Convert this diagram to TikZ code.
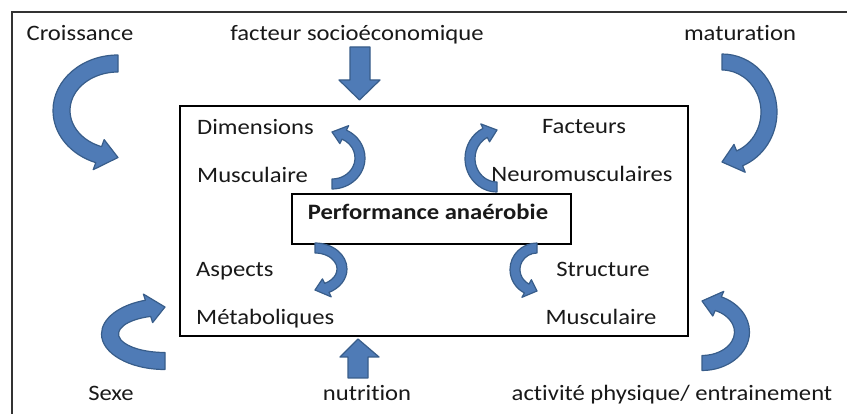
\documentclass[tikz,border=0pt]{standalone}
\usepackage{fontspec}
\setmainfont{Carlito}[FakeStretch=1.12, Ligatures=NoCommon]
\begin{document}
% bent block arrow: centre (#1,#2), radii #3/#4, from angle #5 to tip angle #6,
% band width #7, head width #8, head length in degrees #9
\newcommand{\bentarrow}[9]{%
  \pgfmathsetmacro\ba{#6-#9*sign(#6-#5)}%
  \pgfmathsetmacro\rxo{#3+#7/2}\pgfmathsetmacro\ryo{#4+#7/2}%
  \pgfmathsetmacro\rxi{#3-#7/2}\pgfmathsetmacro\ryi{#4-#7/2}%
  \pgfmathsetmacro\pax{#1+\rxo*cos(#5)}\pgfmathsetmacro\pay{#2+\ryo*sin(#5)}%
  \pgfmathsetmacro\pbx{#1+(#3+#8/2)*cos(\ba)}\pgfmathsetmacro\pby{#2+(#4+#8/2)*sin(\ba)}%
  \pgfmathsetmacro\pcx{#1+#3*cos(#6)}\pgfmathsetmacro\pcy{#2+#4*sin(#6)}%
  \pgfmathsetmacro\pdx{#1+(#3-#8/2)*cos(\ba)}\pgfmathsetmacro\pdy{#2+(#4-#8/2)*sin(\ba)}%
  \pgfmathsetmacro\pex{#1+\rxi*cos(\ba)}\pgfmathsetmacro\pey{#2+\ryi*sin(\ba)}%
  \filldraw[bent] (\pax,\pay)
    arc[start angle=#5, end angle=\ba, x radius=\rxo, y radius=\ryo]
    -- (\pbx,\pby) -- (\pcx,\pcy) -- (\pdx,\pdy) -- (\pex,\pey)
    arc[start angle=\ba, end angle=#5, x radius=\rxi, y radius=\ryi] -- cycle;%
}
\begin{tikzpicture}[x=1pt,y=-1pt,
  lbl/.style={inner sep=0pt, text=black!90, font=\fontsize{22}{26}\selectfont},
  bent/.style={fill={rgb,255:red,79;green,123;blue,182}, draw={rgb,255:red,56;green,93;blue,138}, line width=1.2pt, line join=round},
  frame/.style={draw=black!80, line width=1.6pt},
  box/.style={draw=black, line width=1.3pt}]
\useasboundingbox (0,0) rectangle (847,414);
\clip (0,0) rectangle (847,414);
\fill[white] (0,0) rectangle (847,414);

% outer frame
\draw[frame] (12,12) rectangle (870,440);

% central boxes
\draw[box] (180,106) rectangle (688,336);
\node[box, minimum width=279pt, minimum height=50pt, inner sep=0pt] (perf) at (431.5,219) {};
\node[lbl, anchor=base, font=\fontsize{22}{26}\selectfont\bfseries] (perftxt) at (428,220) {Performance ana\'erobie};

% outer labels
\node[lbl, anchor=base] (croiss) at (80,41) {Croissance};
\node[lbl, anchor=base] (socio) at (357,41) {facteur socio\'economique};
\node[lbl, anchor=base] (matur) at (740,41) {maturation};
\node[lbl, anchor=base] (sexe) at (111,400) {Sexe};
\node[lbl, anchor=base] (nutri) at (367,400) {nutrition};
\node[lbl, anchor=base] (activ) at (672,400) {activit\'e physique/ entrainement};

% inner labels
\node[lbl, anchor=base west] (dim) at (197,135) {Dimensions};
\node[lbl, anchor=base west] (muscg) at (197,183) {Musculaire};
\node[lbl, anchor=base] (fact) at (584,134) {Facteurs};
\node[lbl, anchor=base] (neuro) at (582,182) {Neuromusculaires};
\node[lbl, anchor=base west] (asp) at (196,277) {Aspects};
\node[lbl, anchor=base west] (meta) at (196,325) {M\'etaboliques};
\node[lbl, anchor=base] (struc) at (603,277) {Structure};
\node[lbl, anchor=base] (muscd) at (601,325) {Musculaire};

% straight block arrows
\filldraw[bent] (350,47) -- (370,47) -- (370,80) -- (380,80) -- (359.5,100) -- (339,80) -- (350,80) -- cycle;
\filldraw[bent] (348,378) -- (368,378) -- (368,357) -- (379,357) -- (358,339) -- (340,357) -- (348,357) -- cycle;

% large bent arrows around the frame
\bentarrow{118}{110.5}{56.5}{47}{270}{90}{17}{32}{20}
\bentarrow{722}{112}{47}{50}{-90}{90}{16}{30}{22}
\bentarrow{165}{334}{55}{27}{90}{270}{17}{30}{18}
\bentarrow{702}{332}{40}{31}{90}{-90}{15}{27}{24}

% small bent arrows inside the box
\bentarrow{332}{158}{28}{26}{90}{-90}{10}{20}{26}
\bentarrow{497}{158.5}{27}{28.5}{90}{270}{10}{20}{26}
\bentarrow{315}{269}{27}{21}{-90}{90}{10}{20}{26}
\bentarrow{537}{269.5}{22}{21.5}{270}{90}{10}{20}{28}
\end{tikzpicture}
\end{document}
